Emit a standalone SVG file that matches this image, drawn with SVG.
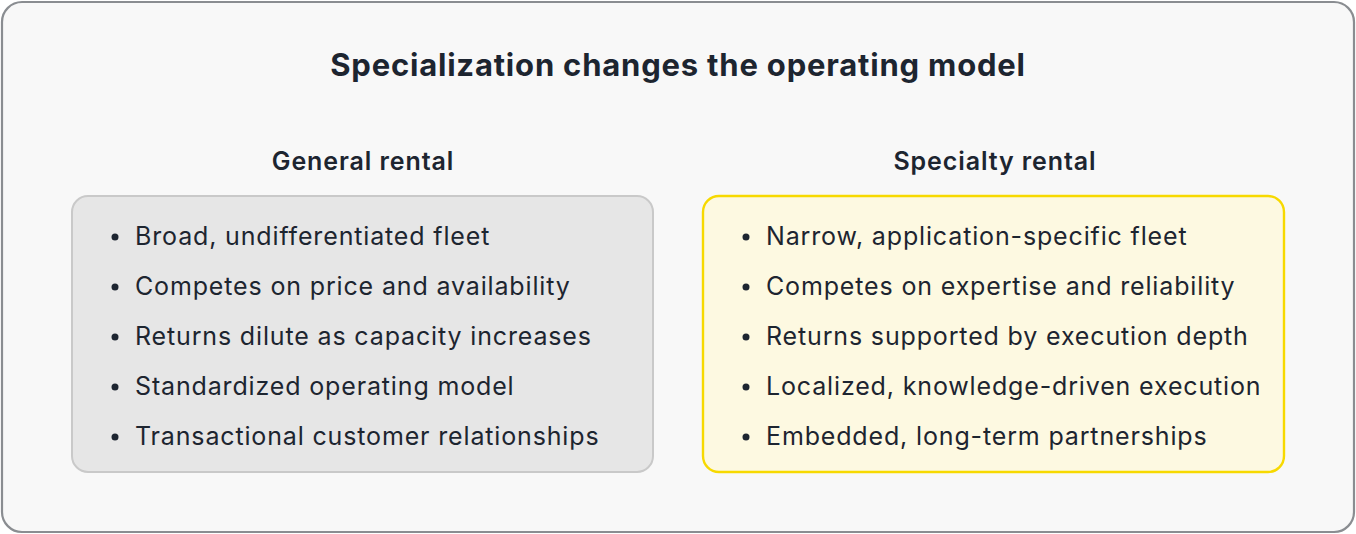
<svg xmlns="http://www.w3.org/2000/svg" width="1356" height="534" viewBox="0 0 1356 534">
<style>
.t{font-family:Inter,"Liberation Sans",sans-serif;fill:#1d2530}
.title{font-size:31px;font-weight:700;letter-spacing:0.8px}
.head{font-size:25px;font-weight:600;letter-spacing:0.9px}
.item{font-size:25px;font-weight:400;letter-spacing:0.85px}
</style>
<rect x="2" y="2" width="1352" height="530" rx="20" fill="#f8f8f8" stroke="#8a8d91" stroke-width="2.2"/>
<text class="t title" x="678" y="76" text-anchor="middle">Specialization changes the operating model</text>
<g id="general">
<text class="t head" x="363" y="170" text-anchor="middle">General rental</text>
<rect x="72" y="196" width="581" height="276" rx="16" fill="#e6e6e6" stroke="#c9c9c9" stroke-width="2"/>
<g class="t item">
<circle cx="115" cy="237" r="3.5" fill="#1d2530"/><text x="135" y="245">Broad, undifferentiated fleet</text>
<circle cx="115" cy="287" r="3.5" fill="#1d2530"/><text x="135" y="295">Competes on price and availability</text>
<circle cx="115" cy="337" r="3.5" fill="#1d2530"/><text x="135" y="345">Returns dilute as capacity increases</text>
<circle cx="115" cy="387" r="3.5" fill="#1d2530"/><text x="135" y="395">Standardized operating model</text>
<circle cx="115" cy="437" r="3.5" fill="#1d2530"/><text x="135" y="445">Transactional customer relationships</text>
</g>
</g>
<g id="specialty">
<text class="t head" x="995" y="170" text-anchor="middle">Specialty rental</text>
<rect x="703" y="196" width="581" height="276" rx="16" fill="#fdf9e1" stroke="#f7d900" stroke-width="2.4"/>
<g class="t item">
<circle cx="746" cy="237" r="3.5" fill="#1d2530"/><text x="766" y="245">Narrow, application-specific fleet</text>
<circle cx="746" cy="287" r="3.5" fill="#1d2530"/><text x="766" y="295">Competes on expertise and reliability</text>
<circle cx="746" cy="337" r="3.5" fill="#1d2530"/><text x="766" y="345">Returns supported by execution depth</text>
<circle cx="746" cy="387" r="3.5" fill="#1d2530"/><text x="766" y="395">Localized, knowledge-driven execution</text>
<circle cx="746" cy="437" r="3.5" fill="#1d2530"/><text x="766" y="445">Embedded, long-term partnerships</text>
</g>
</g>
<g id="connectors"></g>
</svg>
